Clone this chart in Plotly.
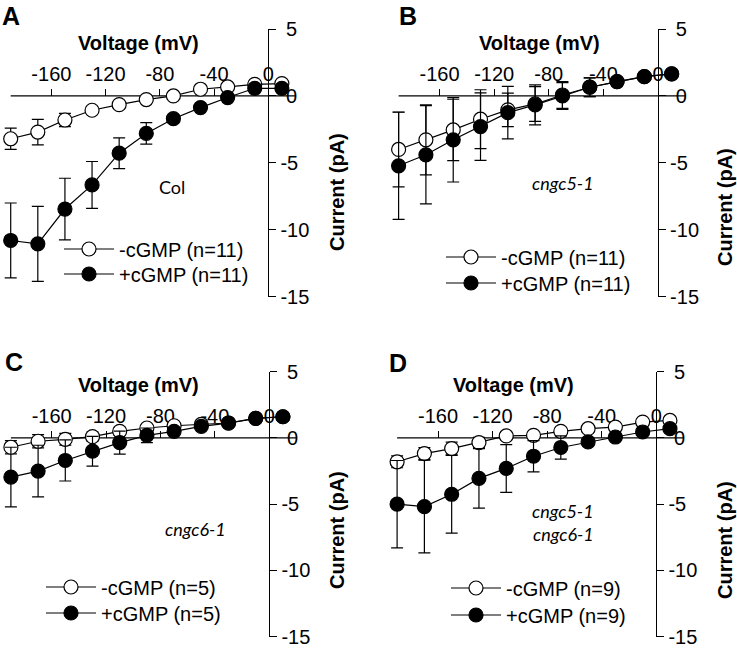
import plotly.graph_objects as go

# ---------------- data ----------------
voltage = [-190, -170, -150, -130, -110, -90, -70, -50, -30, -10, 10]

a_minus = [-3.2, -2.7, -1.8, -1.07, -0.65, -0.27, 0.0, 0.5, 0.67, 0.87, 0.92]
a_minus_err = [0.8, 0.95, 0.5, 0.2, 0.2, 0.15, 0.1, 0.1, 0.1, 0.1, 0.1]
a_plus = [-10.8, -11.05, -8.45, -6.65, -4.28, -2.8, -1.7, -0.87, -0.12, 0.57, 0.57]
a_plus_err = [2.8, 2.8, 2.3, 1.75, 1.15, 0.8, 0.3, 0.2, 0.15, 0.1, 0.1]

b_minus = [-4.0, -3.28, -2.54, -1.74, -1.04, -0.6, 0.07, 0.65, 1.07, 1.44, 1.64]
b_minus_err = [2.8, 2.62, 2.29, 2.2, 1.25, 1.3, 1.0, 0.7, 0.3, 0.2, 0.2]
b_plus = [-5.22, -4.4, -3.28, -2.29, -1.25, -0.67, 0.0, 0.65, 1.07, 1.44, 1.64]
b_plus_err = [4.0, 3.67, 3.15, 2.52, 1.96, 1.5, 1.0, 0.7, 0.3, 0.2, 0.2]

c_minus = [-0.7, -0.25, -0.1, 0.1, 0.5, 0.75, 0.92, 1.02, 1.13, 1.48, 1.6]
c_minus_err = [0.5, 0.5, 0.45, 0.35, 0.3, 0.25, 0.2, 0.15, 0.1, 0.1, 0.1]
c_plus = [-2.95, -2.5, -1.7, -1.0, -0.35, 0.2, 0.5, 0.87, 1.12, 1.47, 1.6]
c_plus_err = [2.25, 1.95, 1.55, 1.12, 0.87, 0.55, 0.3, 0.2, 0.15, 0.1, 0.1]

d_minus = [-1.8, -1.18, -0.8, -0.35, 0.15, 0.2, 0.5, 0.7, 0.82, 1.2, 1.32]
d_minus_err = [0.45, 0.45, 0.48, 0.4, 0.3, 0.25, 0.2, 0.15, 0.1, 0.1, 0.1]
d_plus = [-5.0, -5.18, -4.25, -3.05, -2.3, -1.38, -0.72, -0.3, 0.07, 0.45, 0.7]
d_plus_err = [3.3, 3.5, 2.93, 2.25, 1.8, 1.18, 0.88, 0.3, 0.2, 0.15, 0.1]

x_tickvals = [-160, -120, -80, -40, 0]
x_ticktext = ["-160", "-120", "-80", "-40", "0"]
y_tickvals = [-15, -10, -5, 0, 5]
y_ticktext = ["-15", "-10", "-5", "\u00a00", "\u00a05"]

X_MIN, X_MAX = -190, 20      # extent of the voltage axis line
Y_MIN, Y_MAX = -15, 5        # extent of the current axis
X_PAD = 5                    # extra room (mV) so end error-bar caps are not clipped

panels = [
    dict(letter="A", label=["Col"], italic=False, n="11",
         minus=a_minus, minus_err=a_minus_err, plus=a_plus, plus_err=a_plus_err),
    dict(letter="B", label=["cngc5-1"], italic=True, n="11",
         minus=b_minus, minus_err=b_minus_err, plus=b_plus, plus_err=b_plus_err),
    dict(letter="C", label=["cngc6-1"], italic=True, n="5",
         minus=c_minus, minus_err=c_minus_err, plus=c_plus, plus_err=c_plus_err),
    dict(letter="D", label=["cngc5-1", "cngc6-1"], italic=True, n="9",
         minus=d_minus, minus_err=d_minus_err, plus=d_plus, plus_err=d_plus_err),
]

# ---------------- geometry (pixels) ----------------
W, H = 737, 648
geo = [
    # x_left(-190), x_zero, y_top(5), y_bot(-15)
    dict(xl=10.7, x0=268.3, yt=29.0, yb=296.7,
         letter=(11, 16), vlab=(138, 43), clab=(337, 192),
         text=[(172, 187)], leg_marker=89, leg_rows=(249, 274)),
    dict(xl=398.6, x0=658.0, yt=29.0, yb=296.7,
         letter=(408, 16), vlab=(539, 43), clab=(725, 207),
         text=[(563, 183)], leg_marker=471, leg_rows=(257, 283)),
    dict(xl=10.9, x0=269.3, yt=371.7, yb=636.7,
         letter=(14, 362), vlab=(138, 385), clab=(337, 530),
         text=[(195, 529)], leg_marker=71, leg_rows=(587, 613)),
    dict(xl=397.1, x0=656.3, yt=371.7, yb=636.7,
         letter=(398, 363), vlab=(513, 385), clab=(725, 540),
         text=[(563, 511), (563, 534)], leg_marker=476, leg_rows=(588, 615)),
]

ITEMW = 50
MARKER_OFF = (ITEMW + 10) / 2  # legend left -> symbol centre (px)


def px(x):
    return x / W


def py(y):
    return 1 - y / H


FONT = "Liberation Sans, Arial, sans-serif"
fig = go.Figure()
annotations = []
shapes = []
layout = {}
leg_count = 0

for i, (p, g) in enumerate(zip(panels, geo)):
    k = "" if i == 0 else str(i + 1)
    scale = (g["x0"] - g["xl"]) / (0 - X_MIN)
    x_lo = X_MIN - X_PAD
    left_px = g["x0"] + x_lo * scale
    right_px = g["x0"] + X_MAX * scale
    xdom = [px(left_px), px(right_px)]
    ydom = [py(g["yb"]), py(g["yt"])]
    y0_paper = ydom[0] + (0 - Y_MIN) / (Y_MAX - Y_MIN) * (ydom[1] - ydom[0])
    x0_paper = xdom[0] + (0 - x_lo) / (X_MAX - x_lo) * (xdom[1] - xdom[0])

    series = [
        (f"-cGMP (n={p['n']})", p["minus"], p["minus_err"], "white"),
        (f"+cGMP (n={p['n']})", p["plus"], p["plus_err"], "black"),
    ]
    for j, (name, yv, ev, fill) in enumerate(series):
        leg_count += 1
        legname = "legend" if leg_count == 1 else f"legend{leg_count}"
        fig.add_trace(go.Scatter(
            x=voltage, y=yv, mode="lines+markers",
            name=name, legend=legname,
            xaxis="x" + k, yaxis="y" + k, cliponaxis=False,
            line=dict(color="black", width=1.2),
            marker=dict(symbol="circle", size=14, color=fill,
                        line=dict(color="black", width=1.2)),
            error_y=dict(type="data", array=ev, visible=True,
                         color="black", thickness=1.2, width=6),
        ))
        layout[legname] = dict(
            x=px(g["leg_marker"] - MARKER_OFF), y=py(g["leg_rows"][j]),
            xanchor="left", yanchor="middle",
            bgcolor="rgba(0,0,0,0)", borderwidth=0, itemwidth=ITEMW,
            font=dict(family=FONT, size=20, color="black"),
        )

    # voltage axis line, drawn through the axis scale from X_MIN to X_MAX at I = 0
    shapes.append(dict(
        type="line", xref="x" + k, yref="y" + k,
        x0=X_MIN, x1=X_MAX, y0=0, y1=0,
        line=dict(color="black", width=1.2), layer="below"))

    layout["xaxis" + k] = dict(
        domain=xdom, range=[x_lo, X_MAX], anchor="free", position=y0_paper,
        side="top", showline=False,
        ticks="outside", ticklen=7, tickwidth=1.2, tickcolor="black",
        tickvals=x_tickvals, ticktext=x_ticktext,
        showgrid=False, zeroline=False, automargin=False,
        tickfont=dict(family=FONT, size=20, color="black"),
        layer="below traces", fixedrange=True,
    )
    layout["yaxis" + k] = dict(
        domain=ydom, range=[Y_MIN, Y_MAX], anchor="free", position=x0_paper,
        side="right", showline=True, linecolor="black", linewidth=1.2,
        ticks="outside", ticklen=7, tickwidth=1.2, tickcolor="black",
        tickvals=y_tickvals, ticktext=y_ticktext,
        showgrid=False, zeroline=False, automargin=False,
        tickfont=dict(family=FONT, size=20, color="black"),
        layer="below traces", fixedrange=True,
    )

    annotations.append(dict(
        text=f"<b>{p['letter']}</b>", x=px(g["letter"][0]), y=py(g["letter"][1]),
        xref="paper", yref="paper", showarrow=False,
        font=dict(family=FONT, size=25, color="black"),
        xanchor="center", yanchor="middle"))
    annotations.append(dict(
        text="<b>Voltage (mV)</b>", x=px(g["vlab"][0]), y=py(g["vlab"][1]),
        xref="paper", yref="paper", showarrow=False,
        font=dict(family=FONT, size=20, color="black"),
        xanchor="center", yanchor="middle"))
    annotations.append(dict(
        text="<b>Current (pA)</b>", x=px(g["clab"][0]), y=py(g["clab"][1]),
        xref="paper", yref="paper", showarrow=False, textangle=-90,
        font=dict(family=FONT, size=20, color="black"),
        xanchor="center", yanchor="middle"))
    for txt, (tx, ty) in zip(p["label"], g["text"]):
        annotations.append(dict(
            text=f"<i>{txt}</i>" if p["italic"] else txt,
            x=px(tx), y=py(ty), xref="paper", yref="paper", showarrow=False,
            font=dict(family="Lato, Carlito, sans-serif", size=18, color="black"),
            xanchor="center", yanchor="middle", borderpad=0))

fig.update_layout(
    width=W, height=H, margin=dict(l=0, r=0, t=0, b=0, autoexpand=False),
    paper_bgcolor="white", plot_bgcolor="rgba(0,0,0,0)",
    showlegend=True, annotations=annotations, shapes=shapes, **layout,
)

fig.write_html(
    "out.html",
    config={"displayModeBar": False},
    post_script="document.body.style.margin='0';document.body.style.padding='0';",
)
